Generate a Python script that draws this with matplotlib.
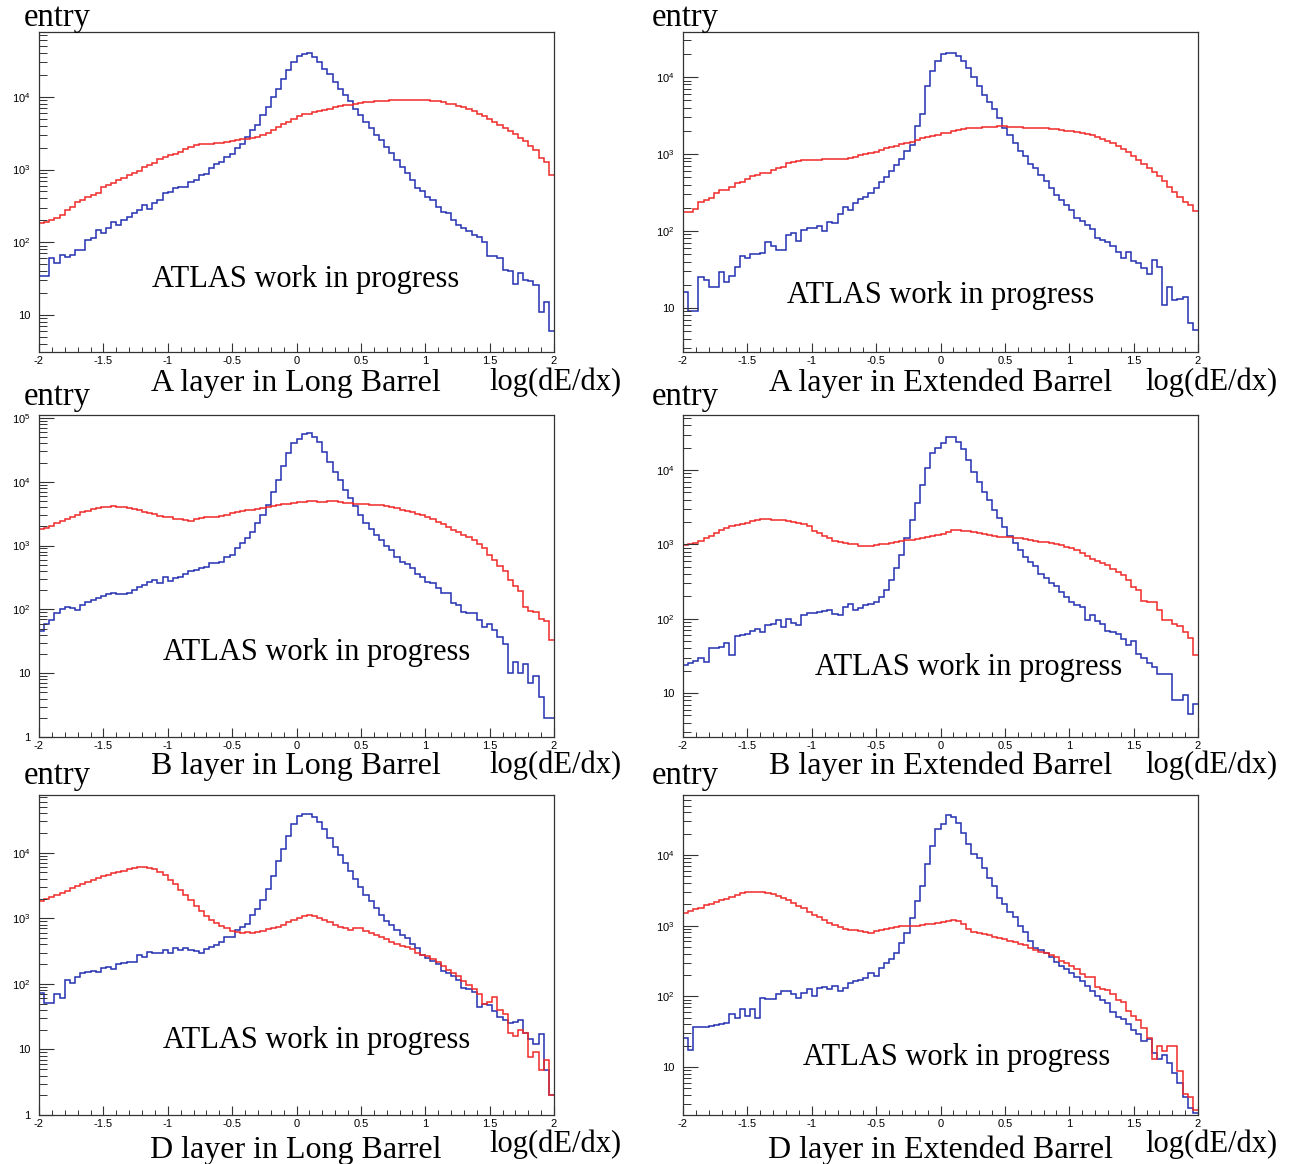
import numpy as np
import matplotlib
matplotlib.use("Agg")
import matplotlib.pyplot as plt
from matplotlib.ticker import LogLocator, MultipleLocator, FuncFormatter, NullFormatter

plt.rcParams['font.family'] = ['Liberation Sans', 'DejaVu Sans']
plt.rcParams['mathtext.fontset'] = 'custom'
plt.rcParams['mathtext.rm'] = 'Liberation Sans'
plt.rcParams['mathtext.it'] = 'Liberation Sans:italic'
plt.rcParams['mathtext.bf'] = 'Liberation Sans:bold'

# 100 bins of log(dE/dx) from -2 to 2
edges = np.linspace(-2.0, 2.0, 101)

# A layer, Long Barrel
a_lb_blue = [34, 34, 60, 51, 67, 62, 67, 77, 77, 108, 113, 148, 133, 156, 192, 173, 203, 225, 250, 278, 325, 284, 343, 382, 470,
             497, 550, 580, 580, 680, 720, 840, 870, 1040, 1210, 1280, 1500, 1660, 1950, 2280, 2820, 3480, 4060, 5600, 7250, 10000, 13000, 17400, 23200, 30200,
             36000, 39000, 40700, 35400, 30200, 24500, 20400, 16100, 13000, 10500, 8900, 6900, 5600, 4570, 3700, 2970, 2540, 2060, 1670, 1350, 1090, 890, 720, 550, 500,
             425, 380, 310, 264, 250, 203, 173, 156, 141, 126, 117, 100, 64, 65, 60, 41, 40, 27, 38, 30, 29, 26, 11, 15, 6]
a_lb_red = [186, 190, 203, 213, 237, 278, 309, 361, 381, 424, 446, 470, 578, 613, 645, 718, 757, 840, 904, 965, 1090, 1150, 1240, 1380, 1500,
            1580, 1630, 1750, 1890, 2050, 2150, 2220, 2220, 2280, 2350, 2350, 2400, 2480, 2530, 2650, 2600, 2680, 2820, 2970, 3200, 3480, 3870, 4200, 4530, 5000,
            5500, 5750, 5900, 6100, 6300, 6600, 6800, 7150, 7400, 7650, 7800, 8000, 8200, 8400, 8550, 8700, 8800, 8900, 8950, 9000, 9000, 9100, 9150, 9150, 9100,
            9000, 8900, 8650, 8400, 8100, 7850, 7500, 7150, 6800, 6450, 5900, 5450, 4950, 4500, 4050, 3700, 3350, 3050, 2750, 2450, 2100, 1850, 1450, 1250, 840]

# A layer, Extended Barrel
a_eb_blue = [16, 9, 9, 25, 23, 19, 19, 29, 22, 26, 34, 48, 44, 50, 50, 52, 72, 63, 57, 57, 88, 94, 74, 102, 108,
             108, 115, 100, 131, 127, 166, 205, 185, 233, 260, 280, 310, 360, 430, 500, 600, 720, 850, 1100, 1300, 2300, 3300, 7600, 12000, 16200,
             20000, 20800, 20500, 18800, 16200, 13200, 10000, 7600, 5900, 4800, 3800, 2950, 2180, 1780, 1390, 1100, 930, 740, 660, 540, 450, 360, 295, 250, 218,
             187, 147, 134, 120, 107, 82, 76, 72, 63, 54, 45, 53, 41, 38, 33, 28, 42, 34, 11, 19, 12.6, 13, 14, 6.3, 5.2]
a_eb_red = [178, 178, 195, 240, 250, 265, 307, 340, 345, 375, 415, 435, 480, 516, 535, 560, 570, 620, 650, 685, 760, 795, 820, 835, 835,
            840, 840, 850, 870, 860, 870, 860, 880, 920, 970, 1000, 1040, 1070, 1130, 1190, 1250, 1270, 1350, 1380, 1450, 1520, 1600, 1650, 1720, 1770,
            1860, 1900, 2000, 2060, 2100, 2160, 2180, 2200, 2220, 2240, 2260, 2280, 2280, 2250, 2230, 2220, 2200, 2200, 2180, 2180, 2150, 2120, 2080, 2050, 2000,
            1980, 1920, 1870, 1800, 1740, 1650, 1570, 1470, 1370, 1270, 1150, 1050, 935, 840, 740, 660, 590, 510, 440, 370, 320, 275, 240, 215, 182]

# B layer, Long Barrel
b_lb_blue = [45, 60, 68, 89, 100, 107, 104, 99, 118, 132, 140, 152, 161, 174, 181, 171, 171, 181, 200, 227, 241, 264, 288, 255, 324,
             280, 305, 316, 354, 400, 415, 440, 463, 525, 540, 560, 670, 710, 900, 1080, 1300, 1650, 2230, 3000, 4300, 6950, 10600, 17600, 27800, 40000,
             46000, 56000, 58500, 50500, 41500, 29500, 20600, 14300, 10600, 7400, 5500, 4100, 3000, 2230, 1790, 1450, 1220, 980, 850, 670, 560, 515, 440, 354, 316,
             270, 255, 214, 178, 178, 127, 117, 91, 89, 87, 68, 52, 59, 48, 37, 29, 10, 15, 10, 14, 7, 9, 4.2, 2.0, 2.0]
b_lb_red = [1800, 1900, 2050, 2250, 2450, 2650, 2850, 3050, 3300, 3500, 3700, 3850, 4000, 4050, 4100, 4050, 3950, 3850, 3700, 3550, 3400, 3250, 3100, 2950, 2850,
            2750, 2650, 2600, 2550, 2450, 2600, 2680, 2750, 2800, 2850, 2950, 3050, 3200, 3350, 3450, 3550, 3650, 3800, 3900, 4000, 4150, 4250, 4400, 4550, 4650,
            4750, 4850, 5000, 4900, 4850, 4850, 4900, 4900, 4850, 4700, 4650, 4550, 4450, 4400, 4350, 4300, 4250, 4200, 4050, 3850, 3650, 3450, 3300, 3150, 3000,
            2800, 2600, 2350, 2150, 1950, 1780, 1620, 1480, 1350, 1200, 1050, 900, 720, 600, 480, 400, 290, 230, 195, 110, 95, 90, 70, 66, 33]

# B layer, Extended Barrel
b_eb_blue = [23.5, 25, 27, 30, 26, 40, 40, 41, 47, 32, 59, 60, 62, 68, 72, 66, 81, 85, 97, 78, 100, 88, 83, 112, 120,
             121, 123, 126, 129, 117, 112, 144, 159, 132, 141, 151, 159, 168, 196, 240, 330, 475, 715, 1200, 2120, 3560, 6280, 10500, 16800, 19600,
             22900, 28100, 28100, 24000, 19000, 13600, 9500, 6950, 5100, 3950, 2890, 2240, 1730, 1290, 1040, 845, 680, 585, 510, 405, 350, 300, 275, 230, 196,
             168, 151, 144, 97, 112, 93, 85, 69, 66, 62, 54, 44, 50, 34, 30, 25, 22.5, 18, 18, 18, 8.1, 8.1, 9.3, 5.2, 7.2]
b_eb_red = [975, 1000, 1050, 1100, 1200, 1300, 1420, 1550, 1650, 1750, 1800, 1880, 1950, 2050, 2100, 2200, 2170, 2150, 2150, 2100, 2050, 2000, 1950, 1900, 1750,
            1500, 1400, 1300, 1200, 1120, 1080, 1050, 1020, 1000, 960, 950, 960, 975, 1000, 1020, 1050, 1080, 1100, 1130, 1160, 1190, 1220, 1250, 1290, 1330,
            1380, 1450, 1550, 1550, 1520, 1500, 1450, 1400, 1370, 1330, 1290, 1270, 1250, 1240, 1220, 1200, 1190, 1150, 1110, 1080, 1070, 1050, 1020, 990, 930,
            880, 830, 760, 700, 640, 590, 560, 520, 470, 420, 385, 330, 270, 240, 175, 170, 168, 130, 95, 95, 86, 80, 66, 55, 32]

# D layer, Long Barrel
d_lb_blue = [72, 51, 51, 69, 61, 115, 102, 129, 145, 150, 155, 150, 175, 183, 166, 200, 211, 218, 218, 275, 260, 303, 300, 300, 325,
             300, 355, 330, 355, 330, 320, 300, 335, 370, 390, 440, 520, 520, 660, 740, 830, 1120, 1400, 1870, 2800, 4460, 7600, 11400, 18200, 27000,
             36600, 39500, 38500, 35000, 29500, 23000, 16500, 12300, 9400, 6900, 5200, 4000, 3050, 2280, 1810, 1440, 1120, 900, 800, 670, 565, 500, 410, 355, 280,
             245, 224, 200, 158, 145, 132, 114, 88, 83, 74, 44, 49, 47, 39, 31, 28, 25, 26, 28, 18, 14.5, 12, 17.5, 4.9, 2.0]
d_lb_red = [1850, 1950, 2100, 2300, 2450, 2650, 2850, 3100, 3350, 3600, 3850, 4100, 4350, 4600, 4850, 5100, 5350, 5600, 5800, 6000, 6000, 5900, 5600, 5100, 4500,
            3900, 3300, 2700, 2250, 1900, 1550, 1300, 1100, 950, 850, 760, 700, 640, 610, 600, 610, 600, 620, 640, 680, 700, 750, 800, 880, 950,
            1000, 1080, 1120, 1080, 1000, 930, 870, 800, 750, 700, 670, 715, 700, 640, 590, 560, 520, 480, 440, 400, 380, 360, 335, 300, 275,
            265, 240, 215, 185, 160, 145, 130, 110, 95, 85, 70, 49, 52, 63, 40, 35, 18, 16, 19.5, 18, 7.6, 9.1, 4.8, 6.8, 2.0]

# D layer, Extended Barrel
d_eb_blue = [26, 17.5, 37, 37, 37, 38, 39, 40, 42.5, 56, 50, 66, 52, 66, 50, 96, 93, 93, 107, 120, 120, 107, 96, 113, 126,
             100, 133, 135, 126, 141, 120, 133, 152, 165, 169, 179, 215, 194, 250, 300, 333, 414, 575, 795, 1290, 2220, 3640, 7370, 13400, 23000,
             27200, 36800, 34500, 28600, 20700, 14100, 10200, 9200, 6600, 4780, 3640, 2500, 2000, 1580, 1330, 990, 800, 610, 490, 450, 410, 360, 310, 270, 240,
             215, 190, 165, 140, 118, 100, 88, 80, 60, 51, 47, 40, 33, 29, 23, 24.5, 16, 13, 15, 11.5, 8.3, 6, 3.7, 2.6, 2.2]
d_eb_red = [1520, 1600, 1700, 1800, 1950, 2050, 2150, 2300, 2400, 2550, 2700, 2850, 2950, 3000, 3000, 2950, 2900, 2800, 2650, 2500, 2300, 2100, 1900, 1750, 1580,
            1430, 1330, 1200, 1100, 1020, 950, 900, 870, 860, 840, 820, 790, 850, 880, 900, 930, 950, 980, 990, 990, 1000, 1020, 1050, 1070, 1090,
            1120, 1160, 1190, 1150, 1050, 890, 820, 795, 755, 735, 690, 675, 640, 610, 580, 550, 525, 475, 445, 425, 410, 380, 355, 320, 295,
            270, 240, 205, 190, 185, 135, 128, 122, 107, 88, 84, 61, 53, 46.5, 36, 26, 13, 20, 17, 20, 20, 8.8, 4.1, 3.7, 2.5]

titles = ["A layer in Long Barrel", "A layer in Extended Barrel",
          "B layer in Long Barrel", "B layer in Extended Barrel",
          "D layer in Long Barrel", "D layer in Extended Barrel"]

W, H = 1292, 1164
fig = plt.figure(figsize=(W / 100, H / 100), dpi=100)

BLUE = '#2230b0'
RED = '#f02a2a'
SERIF = ['Liberation Serif', 'DejaVu Serif']


def fx(x):
    return x / W


def fy(y):
    return 1 - y / H


def ylab(v, pos):
    e = np.log10(v)
    n = int(round(e))
    if abs(e - n) > 1e-6:
        return ''
    if n == 0:
        return '1'
    if n == 1:
        return '10'
    return r'$10^{%d}$' % n


def xlab(v, pos):
    return '%g' % (round(v, 2) + 0.0)


# panel boxes in pixels (left, top, right, bottom) and y range
cols = [(39, 554), (683, 1198)]
rows = [(32, 352), (415, 737), (795, 1115)]
ylims = [(3.09, 78000), (2.68, 38400), (1, 1.11e5), (2.56, 55000), (1, 76000), (2.09, 70600)]
series = [(a_lb_blue, a_lb_red), (a_eb_blue, a_eb_red),
          (b_lb_blue, b_lb_red), (b_eb_blue, b_eb_red),
          (d_lb_blue, d_lb_red), (d_eb_blue, d_eb_red)]
entry_base = [26, 405, 784]
title_base = [391, 774, 1158]
unit_base = [390, 773, 1152]
atlas_pos = [(152, 287), (787, 303), (163, 660), (815, 675), (163, 1048), (803, 1065)]
title_center = [296, 941]
unit_center = [555, 1211]
entry_left = [24, 652]

for i in range(6):
    r, c = divmod(i, 2)
    x0, x1 = cols[c]
    y0, y1 = rows[r]
    ax = fig.add_axes([fx(x0), fy(y1), (x1 - x0) / W, (y1 - y0) / H])
    blue, red = series[i]
    ax.stairs(blue, edges, baseline=None, color=BLUE, lw=1.1)
    ax.stairs(red, edges, baseline=None, color=RED, lw=1.1)
    ax.set_yscale('log')
    ax.set_xlim(-2, 2)
    ax.set_ylim(*ylims[i])
    ax.yaxis.set_major_locator(LogLocator(base=10, numticks=12))
    ax.yaxis.set_minor_locator(LogLocator(base=10, subs=np.arange(2, 10), numticks=12))
    ax.yaxis.set_major_formatter(FuncFormatter(ylab))
    ax.yaxis.set_minor_formatter(NullFormatter())
    ax.xaxis.set_major_locator(MultipleLocator(0.5))
    ax.xaxis.set_minor_locator(MultipleLocator(0.1))
    ax.xaxis.set_major_formatter(FuncFormatter(xlab))
    ax.tick_params(axis='y', which='major', direction='in', length=11, width=0.8,
                   labelsize=8, pad=6, right=False, color='#333333')
    ax.tick_params(axis='y', which='minor', direction='in', length=5.5, width=0.7,
                   right=False, color='#333333')
    ax.tick_params(axis='x', which='major', direction='in', length=6.5, width=0.8,
                   labelsize=8, pad=3, top=False, color='#333333')
    ax.tick_params(axis='x', which='minor', direction='in', length=3.3, width=0.7,
                   top=False, color='#333333')
    for s in ax.spines.values():
        s.set_color('#333333')
        s.set_linewidth(0.9)

    fig.text(fx(entry_left[c]), fy(entry_base[r]), 'entry', family=SERIF,
             fontsize=23.5, ha='left', va='baseline')
    fig.text(fx(title_center[c]), fy(title_base[r]), titles[i], family=SERIF,
             fontsize=23, ha='center', va='baseline')
    fig.text(fx(unit_center[c]), fy(unit_base[r]), 'log(dE/dx)', family=SERIF,
             fontsize=22, ha='center', va='baseline')
    ax_, ay_ = atlas_pos[i]
    fig.text(fx(ax_), fy(ay_), 'ATLAS work in progress', family=SERIF,
             fontsize=22, ha='left', va='baseline')

fig.savefig('out.png', dpi=100)
